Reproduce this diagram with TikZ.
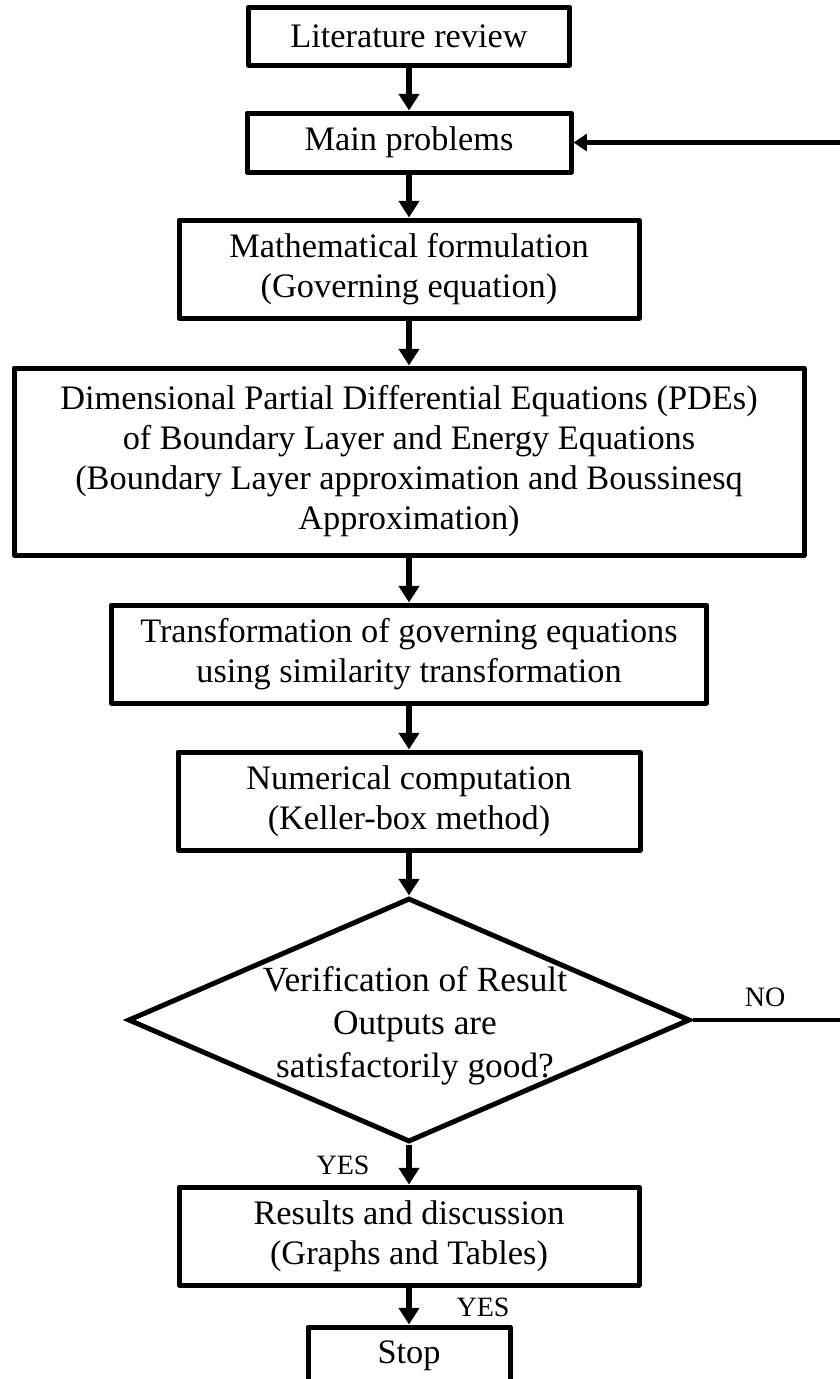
\documentclass[tikz,border=0pt]{standalone}
\usepackage{fontspec}
\setmainfont{Liberation Serif}
\usetikzlibrary{arrows.meta,shapes.geometric}
\tikzset{
>={Triangle[length=5pt,width=6pt]},
  flowbox/.style={
    rectangle,
    draw=black, line width=1.5pt,
    line join=round,
    align=center,
    font=\fontsize{10.3}{12}\selectfont},
  decide/.style={
    diamond,
    draw=black, line width=1.5pt,
    aspect=2.3, inner sep=0pt},
  decidetext/.style={
    align=center,
    font=\fontsize{10.6}{12.8}\selectfont},
  flowline/.style={draw, line width=2pt, ->},
  backline/.style={draw, line width=1.3pt, -{Triangle[length=4pt,width=5pt]}},
  answer/.style={font=\fontsize{8.4}{10}\selectfont},
}

\begin{document}
\begin{tikzpicture}[x=0.3pt,y=-0.3pt]
    \useasboundingbox (0,0) rectangle (840,1379);
    \clip (0,0) rectangle (840,1379);
% boxes
    \node[flowbox, minimum width=96.3pt, minimum height=17.4pt] (lit) at (409,36) {Literature review};
    \node[flowbox, minimum width=97.2pt, minimum height=17.7pt] (main) at (409,142.5) {Main problems};
    \node[flowbox, minimum width=138pt, minimum height=29.4pt] (math) at (409,269) {Mathematical formulation\\(Governing equation)};
    \node[flowbox, minimum width=237pt, minimum height=56.1pt] (pde) at (409,461.5) {Dimensional Partial Differential Equations (PDEs)\\of Boundary Layer and Energy Equations\\(Boundary Layer approximation and Boussinesq\\Approximation)};
    \node[flowbox, minimum width=178.5pt, minimum height=29.4pt] (simil) at (409,654) {Transformation of governing equations\\using similarity transformation};
    \node[flowbox, minimum width=138.6pt, minimum height=29.4pt] (keller) at (409,801) {Numerical computation\\(Keller-box method)};
    \node[decide, minimum width=168.6pt, minimum height=73.2pt] (verif) at (409,1020) {};
    \node[decidetext] (veriftext) at (415,1026) {Verification of Result\\Outputs are\\satisfactorily good?};
    \node[flowbox, minimum width=138pt, minimum height=29.4pt] (result) at (409,1236) {Results and discussion\\(Graphs and Tables)};
    \node[flowbox, minimum width=60.6pt, minimum height=17.4pt] (stop) at (409,1356) {Stop};
% answers
    \node[answer] (yesres) at (343,1165) {YES};
    \node[answer] (yesstop) at (483,1307) {YES};
    \node[answer] (nobox) at (765,997) {NO};
% arrows
    \draw[flowline] (lit) -- (main);
    \draw[flowline] (main) -- (math);
    \draw[flowline] (math) -- (pde);
    \draw[flowline] (pde) -- (simil);
    \draw[flowline] (simil) -- (keller);
    \draw[flowline] (keller) -- (verif);
    \draw[flowline] (verif) -- (result);
    \draw[flowline] (result) -- (stop);
    \coordinate (noturn) at (880,1020);
    \draw[backline] (verif.east) -- (noturn) |- (main.east);
\end{tikzpicture}
\end{document}
